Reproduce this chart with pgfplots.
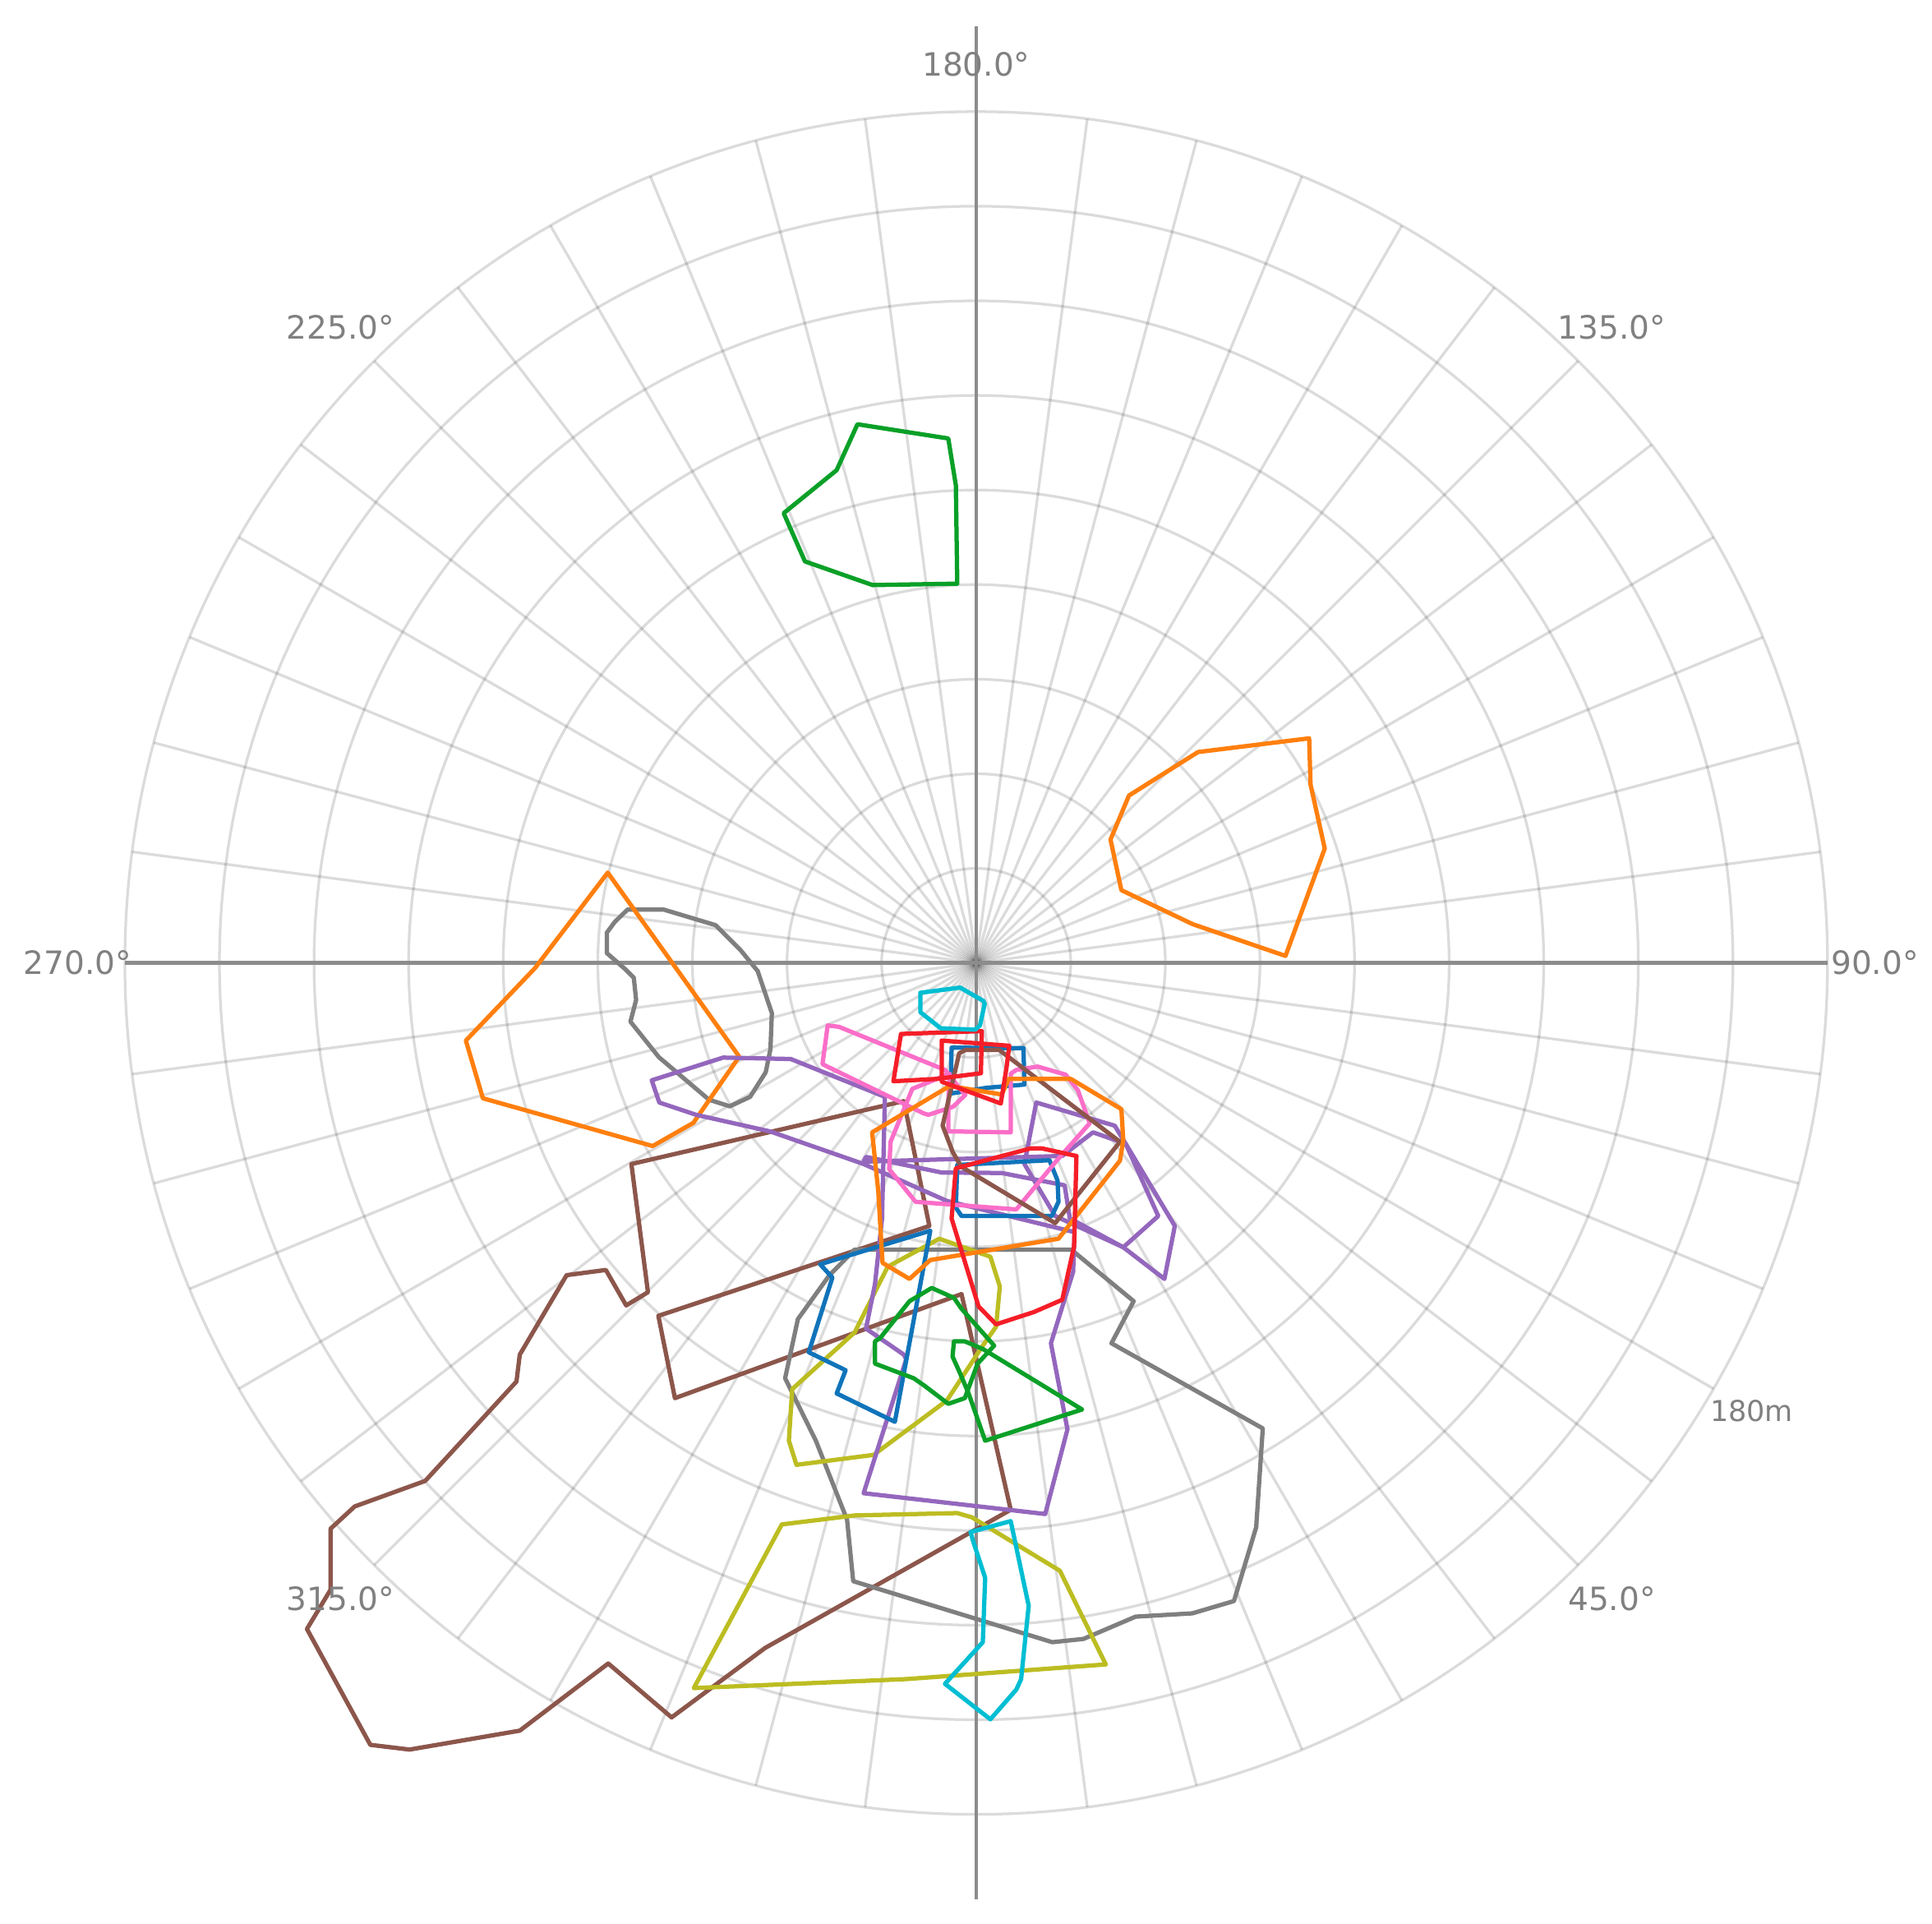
\documentclass[border=0pt]{standalone}
\usepackage{pgfplots}
\pgfplotsset{compat=1.18}
\usepackage{fontspec}
\setmainfont{DejaVu Sans}
\definecolor{cblue}{RGB}{16,116,186}
\definecolor{corange}{RGB}{255,127,14}
\definecolor{cgreen}{RGB}{10,160,40}
\definecolor{cred}{RGB}{245,30,40}
\definecolor{cpurple}{RGB}{148,103,189}
\definecolor{cbrown}{RGB}{140,86,75}
\definecolor{cpink}{RGB}{250,110,200}
\definecolor{cgray}{RGB}{127,127,127}
\definecolor{colive}{RGB}{188,189,34}
\definecolor{ccyan}{RGB}{0,190,210}
\definecolor{axgray}{RGB}{140,140,140}
\definecolor{labgray}{RGB}{128,128,128}
\tikzset{gridline/.style={draw=black, draw opacity=0.14, line width=0.65pt}}
\begin{document}
\begin{tikzpicture}
\begin{axis}[
  scale only axis, width=469.8pt, height=467.7pt,
  xmin=-206.4, xmax=202.1, ymin=-203.1, ymax=203.6,
  hide axis, clip=false,
  every axis plot/.append style={no markers, line width=1.05pt, line join=round},
]
% grid
\pgfplotsinvokeforeach{20,40,...,180}{
  \draw[gridline] (axis cs:0,0) circle[radius=#1];
}
\pgfplotsinvokeforeach{0,7.5,...,352.5}{
  \draw[gridline] (axis cs:0,0) -- (axis cs:{180*cos(#1)},{180*sin(#1)});
}
\draw[axgray, line width=0.9pt] (axis cs:0,-198) -- (axis cs:0,198);
\draw[axgray, line width=0.9pt] (axis cs:-180,0) -- (axis cs:180,0);

% green top
\addplot[cgreen] coordinates {(-25.1,113.9) (-5.9,110.9) (-4.3,101.0) (-4.0,80.2) (-21.9,79.9) (-36.2,84.9) (-40.7,95.1) (-29.5,104.2)} --cycle;
% orange right
\addplot[corange] coordinates {(46.9,44.6) (70.4,47.5) (70.7,37.7) (73.7,24.2) (65.4,1.5) (45.8,8.2) (30.7,15.4) (28.4,26.1) (32.3,35.4)} --cycle;
% brown big
\addplot[cbrown] coordinates {(-72.9,-42.5) (-15.3,-29.2) (-9.9,-55.6) (-67.2,-74.6) (-63.7,-92.0) (-3.1,-70.0) (7.3,-115.6) (-44.6,-144.8) (-64.4,-159.5) (-77.8,-148.1) (-96.5,-162.3) (-119.8,-166.3) (-128.1,-165.3) (-141.5,-140.8) (-136.5,-132.5) (-136.5,-119.6) (-131.4,-114.9) (-116.5,-109.5) (-97.2,-88.5) (-96.5,-82.8) (-86.6,-66.0) (-78.3,-64.9) (-74.0,-72.4) (-69.4,-69.6)} --cycle;
% gray big
\addplot[cgray] coordinates {(-25.7,-60.6) (20.1,-60.6) (33.3,-71.5) (28.6,-80.4) (60.6,-98.4) (59.2,-119.3) (54.5,-134.9) (45.7,-137.5) (33.7,-138.2) (22.7,-142.9) (16.1,-143.6) (-26.0,-130.7) (-27.3,-117.7) (-33.9,-101.0) (-40.4,-87.8) (-37.7,-75.3) (-31.1,-66.1)} --cycle;
% gray left blob
\addplot[cgray] coordinates {(-73.7,11.3) (-66.1,11.3) (-55.1,8.0) (-49.8,2.7) (-46.2,-1.7) (-43.2,-10.6) (-43.5,-18.2) (-44.5,-23.1) (-47.8,-28.3) (-52.1,-30.3) (-56.5,-28.9) (-67.1,-19.9) (-73.1,-12.4) (-71.9,-7.8) (-72.4,-3.1) (-74.1,-1.4) (-78.1,2.1) (-78.1,6.4) (-76.4,8.7)} --cycle;
% orange left
\addplot[corange] coordinates {(-77.9,19.1) (-50.1,-19.8) (-59.8,-33.8) (-68.4,-38.7) (-104.3,-28.6) (-107.9,-16.4) (-93.3,-1.1)} --cycle;
% olive
\addplot[colive] coordinates {(-7.8,-58.3) (3.0,-62.1) (5.0,-68.4) (4.2,-76.9) (1.4,-80.9) (-6.2,-92.5) (-21.7,-104.0) (-38.0,-106.1) (-39.6,-101.0) (-38.9,-90.1) (-25.7,-78.1) (-18.7,-64.2)} --cycle;
\addplot[colive] coordinates {(-41.1,-118.7) (-25.7,-116.8) (-4.0,-116.3) (-0.9,-117.2) (17.7,-128.5) (27.4,-148.3) (-14.8,-151.4) (-59.7,-153.3)} --cycle;
% purple
\addplot[cpurple] coordinates {(-68.6,-24.8) (-53.5,-20.0) (-39.2,-20.3) (-19.3,-28.3) (-19.9,-54.0) (-21.4,-67.9) (-23.3,-77.3) (-15.3,-82.8) (-14.8,-83.8) (-23.8,-112.1) (14.6,-116.5) (19.3,-98.6) (15.8,-80.4) (20.5,-65.3) (20.8,-56.9) (-6.2,-50.3) (-23.8,-42.5) (-43.6,-35.6) (-59.2,-32.1) (-67.0,-29.5)} --cycle;
\addplot[cpurple] coordinates {(10.2,-42.5) (12.7,-29.5) (29.3,-34.4) (31.6,-38.2) (42.0,-55.6) (39.8,-66.8) (31.1,-60.1) (16.7,-53.5)} --cycle;
\addplot[cpurple] coordinates {(-23.8,-42.0) (18.2,-40.8) (24.7,-35.8) (31.6,-38.2) (38.5,-53.5) (31.1,-60.1) (19.8,-54.0) (18.7,-47.0) (5.4,-44.4) (-7.3,-44.3) (-23.3,-41.0)} --cycle;
% blue
\addplot[cblue] coordinates {(-33.0,-63.7) (-9.7,-56.6) (-17.2,-97.0) (-29.5,-91.0) (-27.6,-86.1) (-35.4,-82.3) (-30.4,-66.5)} --cycle;
\addplot[cblue] coordinates {(-4.0,-42.7) (15.5,-41.7) (17.2,-46.0) (17.4,-50.5) (16.0,-53.5) (-3.1,-53.5) (-4.3,-51.7)} --cycle;
\addplot[cblue] coordinates {(-5.2,-17.9) (10.0,-18.0) (10.2,-25.7) (2.1,-26.4) (-5.4,-27.6)} --cycle;
% pink
\addplot[cpink] coordinates {(-31.4,-13.2) (-29.0,-13.5) (-6.6,-22.6) (-2.3,-27.9) (-4.9,-30.4) (-10.1,-32.1) (-11.1,-31.8) (-32.5,-21.4)} --cycle;
\addplot[cpink] coordinates {(-5.6,-23.4) (-13.5,-26.6) (-18.1,-37.8) (-18.4,-43.6) (-12.8,-50.5) (8.5,-52.1) (17.0,-41.8) (24.0,-33.9) (21.5,-26.9) (18.9,-23.6) (13.0,-21.9) (8.5,-22.6) (7.3,-23.4) (7.3,-35.8) (-5.9,-35.6) (-5.9,-29.2)} --cycle;
% brown small
\addplot[cbrown] coordinates {(-7.1,-34.4) (-3.6,-19.1) (-2.3,-18.4) (4.9,-18.4) (30.4,-37.8) (16.7,-55.0) (-3.1,-43.1) (-4.9,-40.1)} --cycle;
% orange middle
\addplot[corange] coordinates {(-22.0,-35.8) (-5.6,-26.0) (5.4,-27.8) (6.9,-24.5) (20.0,-24.5) (30.7,-30.9) (31.1,-37.5) (30.4,-41.8) (17.4,-58.3) (-9.7,-62.8) (-14.1,-66.8) (-19.8,-63.4) (-20.7,-48.3)} --cycle;
% red
\addplot[cred] coordinates {(-15.9,-15.0) (1.2,-14.4) (1.0,-23.3) (-8.3,-24.5) (-17.5,-25.0)} --cycle;
\addplot[cred] coordinates {(-7.3,-16.4) (7.0,-17.5) (6.4,-22.2) (5.2,-29.7) (-7.3,-25.1)} --cycle;
\addplot[cred] coordinates {(-4.3,-43.4) (11.5,-39.2) (13.9,-39.2) (21.2,-40.8) (20.7,-59.9) (18.2,-71.2) (12.2,-73.8) (4.2,-76.4) (0.5,-72.6) (-5.2,-54.0)} --cycle;
% green lower
\addplot[cgreen] coordinates {(-9.4,-68.7) (-14.1,-71.5) (-20.3,-79.3) (-21.4,-80.0) (-21.4,-84.7) (-13.2,-87.8) (-10.9,-89.4) (-5.9,-93.2) (-2.4,-92.0) (0.3,-84.7) (3.8,-80.9) (-3.1,-73.1) (-4.7,-70.8)} --cycle;
\addplot[cgreen] coordinates {(-4.7,-80.0) (-2.4,-80.0) (1.4,-81.6) (22.4,-94.4) (1.9,-101.0) (-1.6,-91.0) (-3.6,-86.3) (-5.0,-83.2)} --cycle;
% cyan
\addplot[ccyan] coordinates {(-11.8,-6.3) (-3.4,-5.2) (1.5,-8.0) (1.8,-8.6) (0.8,-13.2) (-0.2,-14.1) (-7.5,-13.8) (-11.8,-10.4)} --cycle;
\addplot[ccyan] coordinates {(-1.2,-120.3) (7.3,-118.0) (11.1,-135.9) (9.5,-151.4) (8.5,-153.6) (3.0,-159.9) (-6.6,-152.4) (1.4,-143.6) (1.9,-130.0) (-0.5,-122.7)} --cycle;

% labels
\begin{scope}[every node/.style={text=labgray, font=\fontsize{7.8}{9}\selectfont, inner sep=0pt}]
\node at (axis cs:0,190) {180.0°};
\node at (axis cs:-134.4,134.4) {225.0°};
\node at (axis cs:134.4,134.4) {135.0°};
\node at (axis cs:-190,0) {270.0°};
\node at (axis cs:190,0) {90.0°};
\node at (axis cs:-134.4,-134.4) {315.0°};
\node at (axis cs:134.4,-134.4) {45.0°};
\node[anchor=north west, font=\fontsize{7}{8}\selectfont, inner sep=0pt, xshift=-1pt, yshift=-2.5pt] at (axis cs:155.9,-90) {180m};
\end{scope}
\end{axis}
\pgfresetboundingbox
\path[use as bounding box] (current axis.south west) rectangle (current axis.north east);
\end{tikzpicture}
\end{document}
